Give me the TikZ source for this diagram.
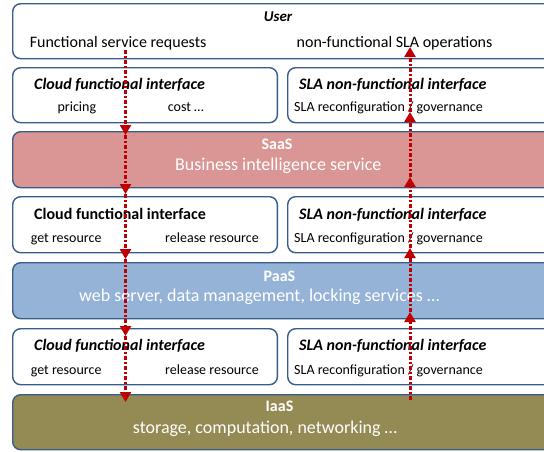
\documentclass[tikz,border=0pt]{standalone}
\usepackage{fontspec}
\setmainfont{Carlito}
\usetikzlibrary{arrows.meta}
\definecolor{bord}{RGB}{56,93,138}
\definecolor{saasc}{RGB}{217,150,148}
\definecolor{paasc}{RGB}{149,179,215}
\definecolor{iaasc}{RGB}{148,138,84}
\definecolor{arrc}{RGB}{192,0,0}
\begin{document}
\begin{tikzpicture}[x=1pt,y=-1pt,
  box/.style={draw=bord, line width=1.4pt, rounded corners=8pt, anchor=north west, inner sep=0pt},
  txt/.style={inner sep=0pt, text height=1.0em, text depth=0.1em},
  tA/.style={txt, font=\fontsize{16}{19}\selectfont},
  tB/.style={txt, font=\fontsize{14}{17}\selectfont},
  tC/.style={txt, font=\fontsize{18}{21}\selectfont, text=white},
  ttl/.style={tA, font=\fontsize{16}{19}\selectfont\bfseries\itshape},
  flow/.style={draw=arrc, line width=3pt, dash pattern=on 4pt off 2pt on 2pt off 2pt, -{Triangle[length=10pt,width=11pt]}}
]
\useasboundingbox (0,0) rectangle (544,451);
\fill[white] (0,0) rectangle (544,451);
% boxes
\node[box, fill=white, minimum width=548pt, minimum height=55pt] (user) at (12,3) {};
\node[box, fill=white, minimum width=264.7pt, minimum height=55pt] (cf1) at (12,67) {};
\node[box, fill=white, minimum width=273pt, minimum height=55pt] (sla1) at (287,67) {};
\node[box, fill=saasc, minimum width=548pt, minimum height=56pt] (saas) at (12,131) {};
\node[box, fill=white, minimum width=264.7pt, minimum height=56pt] (cf2) at (12,196) {};
\node[box, fill=white, minimum width=273pt, minimum height=56pt] (sla2) at (287,196) {};
\node[box, fill=paasc, minimum width=548pt, minimum height=56pt] (paas) at (12,262) {};
\node[box, fill=white, minimum width=264.7pt, minimum height=56pt] (cf3) at (12,328) {};
\node[box, fill=white, minimum width=273pt, minimum height=56pt] (sla3) at (287,328) {};
\node[box, fill=iaasc, minimum width=548pt, minimum height=55pt] (iaas) at (12,394) {};
% user texts
\node[txt, font=\fontsize{15}{18}\selectfont\bfseries\itshape] (usert) at (278,17.3) {User};
\node[tA, anchor=west] (fsr) at (29.6,42.7) {Functional service requests};
\node[tA, anchor=west] (nfs) at (296.5,42.7) {non-functional SLA operations};
% row 1
\node[ttl, anchor=west] (cf1t) at (34,85) {Cloud functional interface};
\node[tB, anchor=west] (cf1a) at (57.4,107.3) {pricing};
\node[tB, anchor=west] (cf1b) at (167.7,107.3) {cost …};
\node[ttl, anchor=west] (sla1t) at (299,85) {SLA non-functional interface};
\node[tB, anchor=west] (sla1a) at (294,107.3) {SLA reconfiguration / governance};
% saas
\node[tC, font=\fontsize{16}{19}\selectfont\bfseries] (saast) at (277,145) {SaaS};
\node[tC] (saasd) at (278.3,165.7) {Business intelligence service};
% row 2
\node[tA, font=\fontsize{16}{19}\selectfont\bfseries, anchor=west] (cf2t) at (34,215) {Cloud functional interface};
\node[tB, anchor=west] (cf2a) at (30.6,238.3) {get resource};
\node[tB, anchor=west] (cf2b) at (165,238.3) {release resource};
\node[ttl, anchor=west] (sla2t) at (299,215) {SLA non-functional interface};
\node[tB, anchor=west] (sla2a) at (294,238.3) {SLA reconfiguration / governance};
% paas
\node[tC, font=\fontsize{16}{19}\selectfont\bfseries] (paast) at (279.5,276.7) {PaaS};
\node[tC] (paasd) at (259.3,296.7) {web server, data management, locking services …};
% row 3
\node[ttl, anchor=west] (cf3t) at (34,346) {Cloud functional interface};
\node[tB, anchor=west] (cf3a) at (30.6,370) {get resource};
\node[tB, anchor=west] (cf3b) at (165,370) {release resource};
\node[ttl, anchor=west] (sla3t) at (299,346) {SLA non-functional interface};
\node[tB, anchor=west] (sla3a) at (294,370) {SLA reconfiguration / governance};
% iaas
\node[tC, font=\fontsize{16}{19}\selectfont\bfseries] (iaast) at (279.5,407.3) {IaaS};
\node[tC] (iaasd) at (265,429.3) {storage, computation, networking …};
% arrow coordinates
\coordinate (L0) at (125.5,50);
\coordinate (L1) at (125.5,135);
\coordinate (L2) at (125.5,194);
\coordinate (L3) at (125.5,259);
\coordinate (L4) at (125.5,336);
\coordinate (L5) at (125.5,402);
\coordinate (R0) at (410,400);
\coordinate (R1) at (410,312);
\coordinate (R2) at (410,248);
\coordinate (R3) at (410,177);
\coordinate (R4) at (410,112);
\coordinate (R5) at (410,47);
\draw[flow] (L0) -- (L1);
\draw[flow] (L1) -- (L2);
\draw[flow] (L2) -- (L3);
\draw[flow] (L3) -- (L4);
\draw[flow] (L4) -- (L5);
\draw[flow] (R0) -- (R1);
\draw[flow] (R1) -- (R2);
\draw[flow] (R2) -- (R3);
\draw[flow] (R3) -- (R4);
\draw[flow] (R4) -- (R5);
\end{tikzpicture}
\end{document}
